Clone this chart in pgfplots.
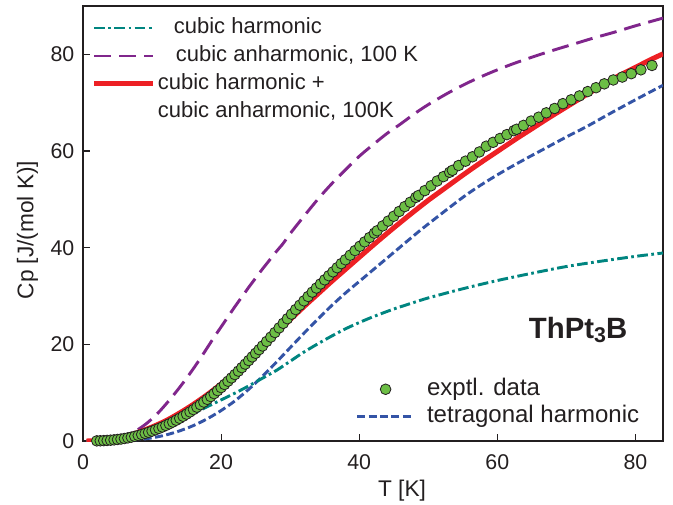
\documentclass[border=0pt]{standalone}
\usepackage{pgfplots}
\pgfplotsset{compat=1.18}
\usepackage{fontspec}
\setmainfont{Liberation Sans}
\definecolor{cteal}{RGB}{0,133,128}
\definecolor{cpurple}{RGB}{128,38,140}
\definecolor{cred}{RGB}{237,32,36}
\definecolor{cblue}{RGB}{52,84,166}
\definecolor{cgreen}{RGB}{108,190,69}
\definecolor{cframe}{RGB}{35,31,32}
\begin{document}
\begin{tikzpicture}
\useasboundingbox (-62.25pt,-47.25pt) rectangle (442.5pt,330.75pt);
\begin{axis}[
  scale only axis, width=435pt, height=326.25pt,
  xmin=0, xmax=84, ymin=0, ymax=90,
  xtick={0,20,40,60,80}, ytick={0,20,40,60,80},
  tick align=inside, xtick pos=left, ytick pos=left,
  major tick length=5.25pt,
  axis line style={line width=1.5pt, cframe},
  tick style={line width=0.8pt, cframe},
  /pgf/number format/assume math mode=true,
  ticklabel style={font=\fontsize{16}{19}\selectfont, text=cframe},
  xticklabel style={yshift=-7pt},
  yticklabel style={xshift=-3pt},
  xlabel={T [K]}, ylabel={Cp [J/(mol K)]},
  label style={font=\fontsize{17}{20}\selectfont, text=cframe},
  xlabel style={at={(axis description cs:0.55,-0.115)}, anchor=center},
  ylabel style={at={(axis description cs:-0.0957,0.485)}, anchor=center},
  clip=true,
  legend cell align=left,
  legend image code/.code={\draw[#1] (0pt,0pt) -- (44pt,0pt); \path[draw=none,fill=none] (0pt,0pt) -- (47.75pt,0pt);},
  legend style={draw=none, fill=none, at={(axis description cs:0.015,0.974)}, anchor=north west,
    inner sep=0pt, outer sep=0pt, row sep=5pt, font=\fontsize{16.5}{19}\selectfont,
    nodes={inner sep=0pt, text height=12pt, text depth=4pt, text=cframe}},
]
% experimental data
\addplot[forget plot, only marks, mark=*, mark size=4pt, mark options={fill=cgreen, draw=cframe, line width=0.6pt}] coordinates {
(2.0,0.03) (2.5,0.05) (3.0,0.08) (3.5,0.12) (4.0,0.17) (4.5,0.24) (5.0,0.32) (5.5,0.41) (6.0,0.52) (6.5,0.65)
(7.0,0.8) (7.5,0.97) (8.0,1.15) (8.5,1.35) (9.0,1.57) (9.5,1.8) (10,2.05) (10.5,2.32) (11,2.6) (11.5,2.9)
(12,3.22) (12.5,3.56) (13,3.92) (13.5,4.3) (14,4.7) (14.5,5.12) (15,5.56) (15.5,6.02) (16,6.5) (16.5,7.0)
(17,7.52) (17.5,8.06) (18,8.62) (18.5,9.2) (19,9.8) (19.5,10.42) (20,11.05) (20.5,11.7) (21,12.37) (21.5,13.05)
(22,13.75) (22.5,14.46) (23,15.18) (23.5,15.91) (24,16.65) (24.5,17.4) (25,18.15) (25.5,18.9) (26,19.66)
(26.6,20.6) (27.2,21.5) (27.8,22.45) (28.4,23.4) (29,24.35) (29.6,25.3) (30.2,26.25) (30.8,27.2) (31.4,28.1)
(32,29.0) (32.6,29.9) (33.2,30.8) (33.8,31.65) (34.4,32.5) (35,33.35) (35.6,34.2) (36.2,35.0) (36.8,35.85)
(37.4,36.7) (38,37.5) (38.7,38.45) (39.4,39.4) (40.1,40.3) (40.8,41.2) (41.5,42.1) (42.2,43.0) (42.6,43.5)
(43.4,44.5) (44.2,45.5) (45,46.5) (45.8,47.5) (46.6,48.5) (47.4,49.4) (48.2,50.4) (48.6,50.8) (49.5,51.8)
(50.4,52.8) (51.3,53.8) (52.2,54.7) (53.1,55.6) (53.5,56.0) (54.4,57.0) (55.4,57.9) (56.4,58.8) (57.4,59.8)
(58.4,61.0) (59.4,61.8) (60.4,62.6) (61.4,63.4) (62.4,64.2) (62.8,64.5) (63.8,65.3) (64.9,66.2) (66.0,67.0)
(67.1,67.9) (68.3,68.8) (69.5,69.8) (70.7,70.6) (71.9,71.4) (73.1,72.3) (74.3,73.1) (75.5,73.9) (76.8,74.7)
(78.1,75.3) (79.4,76.0) (80.8,76.8) (82.4,77.7)
};
% tetragonal harmonic
\addplot[forget plot, cblue, line width=2.2pt, dash pattern=on 6pt off 2.6pt, smooth] coordinates {
(0.5,0) (4,0.02) (6,0.08) (8,0.28) (10,0.65) (12,1.25) (14,2.1) (16,3.2) (18,4.6) (20,6.3) (22,8.3) (24,10.7)
(26,13.4) (28,16.3) (30,19.3) (32,22.3) (34,25.2) (36,28.0) (38,30.6) (40,33.0) (42,35.4) (45,39.0) (48,42.6)
(50,44.9) (55,50.4) (58,53.3) (61,55.9) (64,58.3) (67,60.6) (70,62.9) (73,65.1) (76,67.5) (80,70.6) (84,73.6)
};
% cubic harmonic
\addplot[cteal, line width=2.2pt, dash pattern=on 8pt off 2.6pt on 2pt off 2.6pt, smooth] coordinates {
(0.5,0) (3,0.05) (6,0.5) (8,1.2) (10,2.2) (12,3.2) (14,4.3) (16,5.7) (18,7.1) (20,8.5) (22,9.9) (24,11.4)
(26,13.0) (28,14.6) (30,16.5) (32,18.4) (34,20.1) (36,21.7) (38,23.2) (40,24.5) (42,25.7) (45,27.3) (48,28.7)
(50,29.6) (55,31.5) (60,33.2) (65,34.7) (70,36.1) (75,37.2) (80,38.2) (84,38.9)
};
\addlegendentry{\hspace*{12pt}cubic harmonic}
% cubic anharmonic
\addplot[cpurple, line width=2.2pt, dash pattern=on 12.75pt off 6pt, smooth] coordinates {
(1,0) (3,0.1) (5,0.6) (7,1.6) (8,2.4) (9,3.4) (10,4.6) (11,6.0) (12,7.6) (13,9.3) (14,11.1) (15,13.0)
(16,15.0) (17,17.1) (18,19.3) (19,21.5) (20,23.6) (21,25.7) (22,27.8) (23,29.8) (24,31.8) (25,33.7)
(26,35.6) (27,37.4) (28,39.2) (29,40.9) (30,42.9) (32,46.5) (34,50.0) (36,53.2) (38,56.1) (40,58.9)
(42,61.3) (44,63.6) (46,65.6) (48,67.7) (50,69.6) (53,72.1) (56,74.3) (59,76.2) (62,77.9) (65,79.4)
(68,80.8) (71,82.1) (74,83.4) (77,84.6) (80,85.9) (84,87.5)
};
\addlegendentry{\hspace*{13.5pt}cubic anharmonic, 100 K}
% sum
\addplot[cred, line width=3.75pt, smooth] coordinates {
(0.5,0) (2,0.05) (4,0.3) (6,0.9) (8,1.8) (10,2.9) (12,4.2) (14,5.8) (16,7.6) (18,9.6) (20,11.8) (22,14.2)
(24,16.8) (26,19.5) (28,22.3) (30,25.1) (32,27.8) (34,30.4) (36,33.0) (38,35.5) (40,38.0) (42.5,41.1)
(45,44.1) (47.5,47.0) (50,49.8) (52.5,52.4) (55,55.0) (57.5,57.5) (60,59.9) (62.5,62.3) (65,64.6)
(67.5,66.9) (70,69.1) (72.5,71.3) (75,73.4) (77.5,75.5) (80,77.3) (82.5,79.1) (84,80.1)
};
\addlegendentry{cubic harmonic +}
\addlegendimage{empty legend}
\addlegendentry{cubic anharmonic, 100K}
\node[font=\fontsize{22}{24}\selectfont\bfseries, text=cframe] at (axis cs:71.7,23) {ThPt\raisebox{-0.3ex}{\fontsize{16}{16}\selectfont 3}B};
\end{axis}
\begin{axis}[
  scale only axis, width=435pt, height=326.25pt,
  xmin=0, xmax=84, ymin=0, ymax=90, hide axis,
  legend cell align=left,
  legend image code/.code={\draw[mark repeat=2,mark phase=2,#1] plot coordinates {(0pt,0pt) (21.4pt,0pt) (42.75pt,0pt)}; \path[draw=none,fill=none] (0pt,0pt) -- (52.5pt,0pt);},
  legend style={draw=none, fill=none, at={(axis description cs:0.470,0.145)}, anchor=north west,
    inner sep=0pt, outer sep=0pt, row sep=3.25pt, font=\fontsize{18}{21}\selectfont,
    nodes={inner sep=0pt, text height=13pt, text depth=4pt, text=cframe}},
]
\addlegendimage{legend image code/.code={\path[draw=none, mark=*, mark size=4pt, mark options={fill=cgreen, draw=cframe, line width=0.6pt}] plot coordinates {(21.4pt,0pt)}; \path[draw=none,fill=none] (0pt,0pt) -- (52.5pt,0pt);}}
\addlegendentry{exptl. data}
\addlegendimage{cblue, line width=2.2pt, dash pattern=on 6pt off 2.6pt}
\addlegendentry{tetragonal harmonic}
\end{axis}
\end{tikzpicture}
\end{document}
